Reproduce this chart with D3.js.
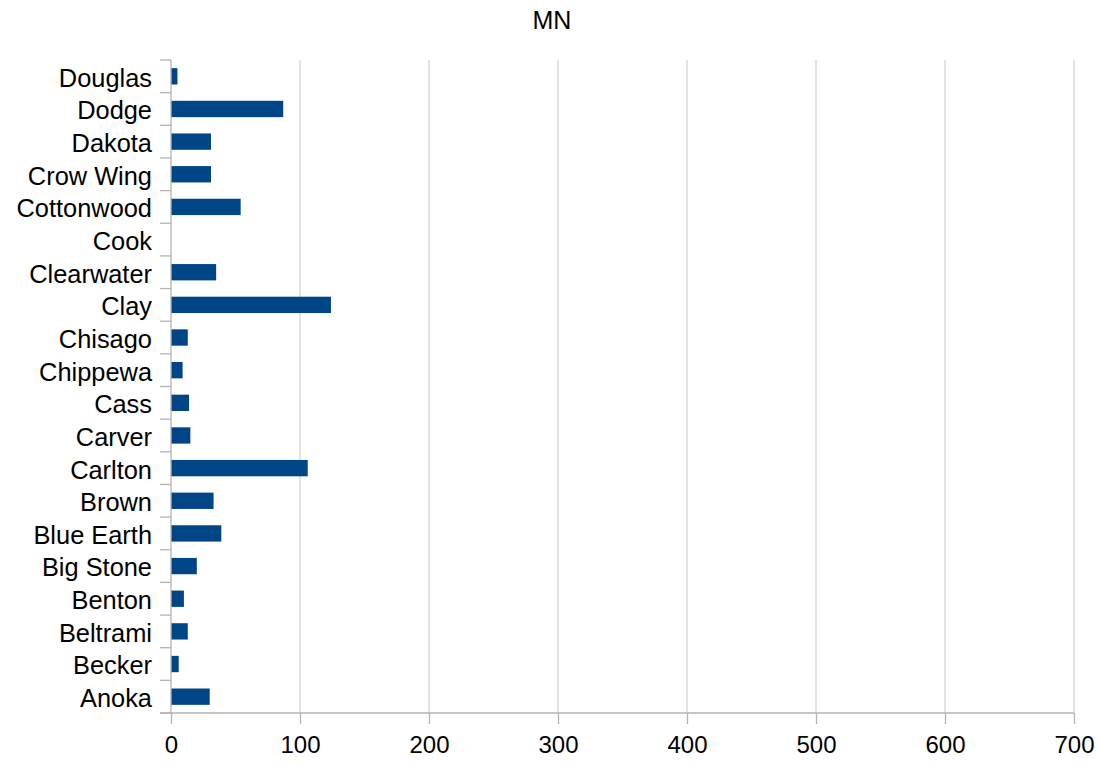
<!DOCTYPE html>
<html><head><meta charset="utf-8">
<script src="https://cdn.jsdelivr.net/npm/d3@7"></script>
<style>html,body{margin:0;padding:0;background:#fff;}</style>
</head><body>
<script>
const title = "MN";
const categories = ["Anoka","Becker","Beltrami","Benton","Big Stone","Blue Earth","Brown","Carlton","Carver","Cass","Chippewa","Chisago","Clay","Clearwater","Cook","Cottonwood","Crow Wing","Dakota","Dodge","Douglas"];
const values = [30,6,13,10,20,39,33,106,15,14,9,13,124,35,0,54,31,31,87,5];
const xTicks = [0,100,200,300,400,500,600,700];

const W = 1100, H = 763;
const m = {left:171, right:26, top:60, bottom:50};
const svg = d3.select("body").append("svg").attr("width",W).attr("height",H)
  .style("font-family","'Liberation Sans', Arial, sans-serif");

const x = d3.scaleLinear().domain([0,700]).range([m.left, W-m.right]);
const y = d3.scaleBand().domain(categories.slice().reverse()).range([m.top, H-m.bottom]).paddingInner(0.5).paddingOuter(0.25);

// gridlines
svg.append("g").selectAll("line").data(xTicks.filter(d=>d>0)).join("line")
  .attr("x1",d=>x(d)).attr("x2",d=>x(d)).attr("y1",m.top).attr("y2",H-m.bottom)
  .attr("stroke","#d4d4d4").attr("stroke-width",1.3);

// bars
svg.append("g").selectAll("rect").data(categories).join("rect")
  .attr("x",x(0)).attr("y",d=>y(d))
  .attr("width",(d,i)=>x(values[i])-x(0)).attr("height",y.bandwidth())
  .attr("fill","#004586");

// x axis
const xa = svg.append("g").attr("transform",`translate(0,${H-m.bottom})`)
  .call(d3.axisBottom(x).tickValues(xTicks).tickSize(11).tickPadding(12));
xa.select(".domain").remove();
xa.append("line").attr("x1",m.left-11).attr("x2",x(700)).attr("y1",0).attr("y2",0).attr("stroke","#b3b3b3").attr("stroke-width",1.3);
xa.selectAll(".tick line").attr("stroke","#b3b3b3").attr("stroke-width",1.3);
xa.selectAll(".tick text").attr("font-size",24).attr("fill","#000").attr("font-family","'Liberation Sans', Arial, sans-serif");

// y axis
const bandEdges = categories.map((c,i)=>m.top + i*(H-m.bottom-m.top)/categories.length).concat([H-m.bottom]);
const ya = svg.append("g");
ya.append("line").attr("x1",m.left).attr("x2",m.left).attr("y1",m.top).attr("y2",H-m.bottom).attr("stroke","#b3b3b3").attr("stroke-width",1.3);
ya.selectAll("line.t").data(bandEdges).join("line").attr("class","t")
  .attr("x1",m.left-11).attr("x2",m.left).attr("y1",d=>d).attr("y2",d=>d).attr("stroke","#b3b3b3").attr("stroke-width",1.3);
ya.selectAll("text").data(categories).join("text")
  .attr("x",m.left-19).attr("y",d=>y(d)+y.bandwidth()/2).attr("dy","0.41em")
  .attr("text-anchor","end").attr("font-size",25.4).attr("fill","#000").text(d=>d);

// title
svg.append("text").attr("x",552).attr("y",29).attr("text-anchor","middle").attr("font-size",25).attr("fill","#000").text(title);
</script>
</body></html>
